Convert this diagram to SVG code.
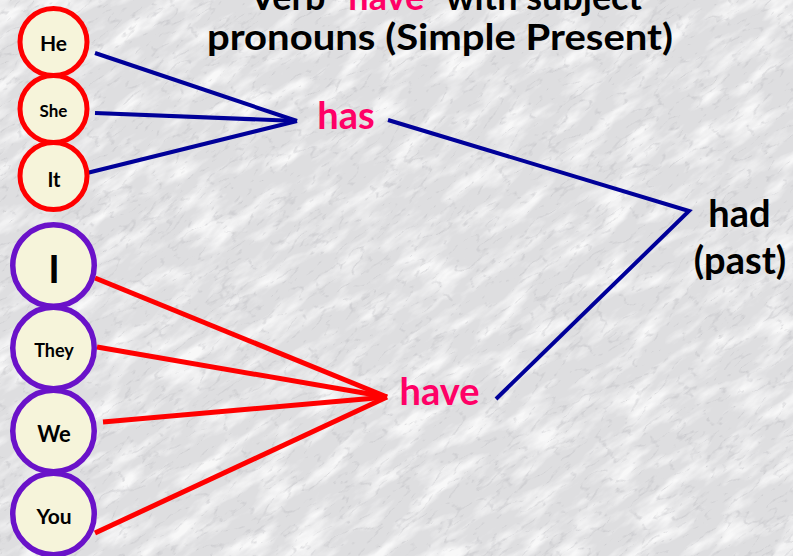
<svg xmlns="http://www.w3.org/2000/svg" width="793" height="556" viewBox="0 0 793 556">
  <defs>
    <filter id="marble" x="-300" y="-300" width="1400" height="1160" filterUnits="userSpaceOnUse">
      <feTurbulence type="fractalNoise" baseFrequency="0.02 0.06" numOctaves="4" seed="7" result="n"/>
      <feColorMatrix in="n" type="matrix" values="0 0 0 0 1  0 0 0 0 1  0 0 0 0 1  3 0 0 0 -1.35"/>
    </filter>
    <filter id="fine" x="-300" y="-300" width="1400" height="1160" filterUnits="userSpaceOnUse">
      <feTurbulence type="turbulence" baseFrequency="0.035 0.09" numOctaves="3" seed="2" result="t"/>
      <feColorMatrix in="t" type="matrix" values="0 0 0 0 0.45  0 0 0 0 0.45  0 0 0 0 0.48  -4.5 0 0 0 0.75"/>
    </filter>
  </defs>
  <style>
    .txt { font-family: Lato, "Open Sans", "Liberation Sans", sans-serif; font-weight: bold; fill: #000; }
    .hl { fill: #ff0066; }
    .red { fill: #f6f4da; stroke: #ff0000; stroke-width: 5; }
    .pur { fill: #f6f4da; stroke: #6a12c9; stroke-width: 5.5; }
    .blue { stroke: #000099; stroke-width: 4; fill: none; }
    .redl { stroke: #ff0000; stroke-width: 5; fill: none; }
  </style>

  <g id="background">
    <rect x="0" y="0" width="793" height="556" fill="#dedee0"/>
    <g transform="rotate(-35 396 278)">
      <rect x="-300" y="-300" width="1400" height="1160" filter="url(#marble)" opacity="0.8"/>
      <rect x="-300" y="-300" width="1400" height="1160" filter="url(#fine)" opacity="0.6"/>
    </g>
  </g>

  <g id="title">
    <text class="txt" x="446" y="10" font-size="36" text-anchor="middle">Verb "<tspan class="hl">have</tspan>" with subject</text>
    <text class="txt" x="440" y="50" font-size="36" text-anchor="middle" textLength="466" lengthAdjust="spacingAndGlyphs">pronouns (Simple Present)</text>
  </g>

  <g id="connectors">
    <line class="blue" x1="95" y1="53" x2="297" y2="121"/>
    <line class="blue" x1="95" y1="113" x2="297" y2="121"/>
    <line class="blue" x1="87" y1="173" x2="297" y2="121"/>
    <polyline class="blue" points="388,120 689,211 496,399"/>
    <line class="redl" x1="95" y1="278" x2="387" y2="397"/>
    <line class="redl" x1="97" y1="347" x2="387" y2="397"/>
    <line class="redl" x1="103" y1="422" x2="387" y2="397"/>
    <line class="redl" x1="95" y1="533" x2="387" y2="397"/>
  </g>

  <g id="node-he">
    <circle class="red" cx="53.5" cy="42" r="33.5"/>
    <text class="txt" x="53.5" y="51" font-size="21" text-anchor="middle">He</text>
  </g>
  <g id="node-she">
    <circle class="red" cx="53.5" cy="109" r="33.5"/>
    <text class="txt" x="53.5" y="117" font-size="17" text-anchor="middle">She</text>
  </g>
  <g id="node-it">
    <circle class="red" cx="53.5" cy="176" r="33.5"/>
    <text class="txt" x="54" y="187" font-size="20" text-anchor="middle">It</text>
  </g>
  <g id="node-i">
    <circle class="pur" cx="53.5" cy="265.5" r="40.75"/>
    <text class="txt" x="54" y="283" font-size="39" text-anchor="middle">I</text>
  </g>
  <g id="node-they">
    <circle class="pur" cx="53.5" cy="348" r="40.75"/>
    <text class="txt" x="54" y="357" font-size="18" text-anchor="middle">They</text>
  </g>
  <g id="node-we">
    <circle class="pur" cx="53.5" cy="431" r="40.75"/>
    <text class="txt" x="54" y="442" font-size="22" text-anchor="middle">We</text>
  </g>
  <g id="node-you">
    <circle class="pur" cx="53.5" cy="514" r="40.75"/>
    <text class="txt" x="54" y="524" font-size="21" text-anchor="middle">You</text>
  </g>

  <g id="node-has">
    <text class="txt hl" x="346" y="129" font-size="38" text-anchor="middle">has</text>
  </g>
  <g id="node-have">
    <text class="txt hl" x="439.5" y="405" font-size="38" text-anchor="middle">have</text>
  </g>
  <g id="node-had">
    <text class="txt" x="739.5" y="227" font-size="38" text-anchor="middle">had</text>
    <text class="txt" x="740" y="274" font-size="38" text-anchor="middle">(past)</text>
  </g>
</svg>
